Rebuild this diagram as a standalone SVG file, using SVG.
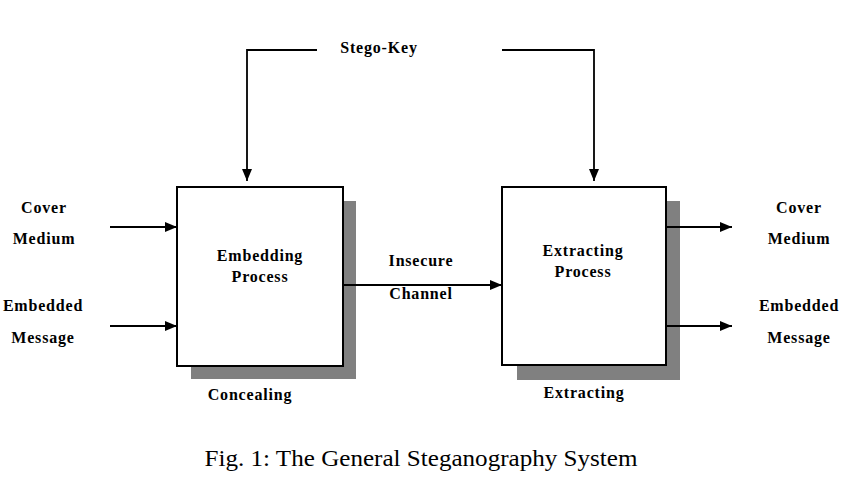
<svg xmlns="http://www.w3.org/2000/svg" width="850" height="503" viewBox="0 0 850 503">
<style>
.lbl{font-family:"Liberation Serif",serif;font-weight:bold;font-size:16px;letter-spacing:0.8px;fill:#000;text-anchor:middle}
.cap{font-family:"Liberation Serif",serif;font-size:23px;fill:#000;text-anchor:middle}
.box{fill:#fff;stroke:#000;stroke-width:2}
.shadow{fill:#808080}
.ln{fill:none;stroke:#000;stroke-width:1.8}
</style>
<defs>
<marker id="ah" markerWidth="12" markerHeight="10" refX="12" refY="5" orient="auto" markerUnits="userSpaceOnUse">
<path d="M0,0 L12,5 L0,10 Z" fill="#000"/>
</marker>
</defs>
<rect width="850" height="503" fill="#fff"/>
<g id="embedding">
<rect class="shadow" x="191" y="201" width="165" height="178"/>
<rect class="box" x="177" y="187" width="166" height="179"/>
<text class="lbl" x="260" y="261">Embedding</text>
<text class="lbl" x="260" y="282">Process</text>
<text class="lbl" x="250" y="400">Concealing</text>
</g>
<g id="extracting">
<rect class="shadow" x="517" y="201" width="163" height="179"/>
<rect class="box" x="502" y="187" width="164" height="178"/>
<text class="lbl" x="583" y="256">Extracting</text>
<text class="lbl" x="583" y="277">Process</text>
<text class="lbl" x="584" y="398">Extracting</text>
</g>
<g id="stego-key"><text class="lbl" x="379" y="53">Stego-Key</text></g>
<g id="cover-in"><text class="lbl" x="44" y="213">Cover</text><text class="lbl" x="44" y="244">Medium</text></g>
<g id="message-in"><text class="lbl" x="43" y="311">Embedded</text><text class="lbl" x="43" y="343">Message</text></g>
<g id="cover-out"><text class="lbl" x="799" y="213">Cover</text><text class="lbl" x="799" y="244">Medium</text></g>
<g id="message-out"><text class="lbl" x="799" y="311">Embedded</text><text class="lbl" x="799" y="343">Message</text></g>
<g id="channel"><text class="lbl" x="421" y="266">Insecure</text><text class="lbl" x="421" y="299">Channel</text></g>
<g id="connectors">
<path class="ln" d="M317,50 H247 V181" marker-end="url(#ah)"/>
<path class="ln" d="M502,50 H594 V181" marker-end="url(#ah)"/>
<path class="ln" d="M110,227 H177" marker-end="url(#ah)"/>
<path class="ln" d="M110,326 H177" marker-end="url(#ah)"/>
<path class="ln" d="M343,285 H502" marker-end="url(#ah)"/>
<path class="ln" d="M666,227 H732" marker-end="url(#ah)"/>
<path class="ln" d="M666,326 H732" marker-end="url(#ah)"/>
</g>
<text class="cap" x="421" y="466" textLength="433" lengthAdjust="spacingAndGlyphs">Fig. 1: The General Steganography System</text>
</svg>
